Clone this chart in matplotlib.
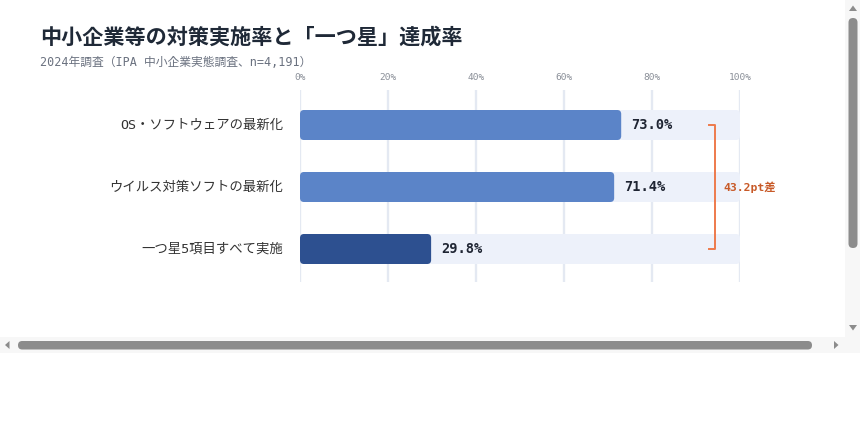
import matplotlib
matplotlib.use("Agg")
import matplotlib.pyplot as plt
from matplotlib.patches import FancyBboxPatch, Rectangle, Polygon

# ---- data ----
categories = ["OS・ソフトウェアの最新化", "ウイルス対策ソフトの最新化", "一つ星5項目すべて実施"]
values = [73.0, 71.4, 29.8]
bar_colors = ["#5B84C8", "#5B84C8", "#2D5090"]
ticks = [0, 20, 40, 60, 80, 100]
tick_labels = ["0%", "20%", "40%", "60%", "80%", "100%"]
title = "中小企業等の対策実施率と「一つ星」達成率"
subtitle = "2024年調査（IPA 中小企業実態調査、n=4,191）"
gap_label = f"{values[0] - values[2]:.1f}pt差"

W, H = 860, 440
MONO = ["DejaVu Sans Mono", "Noto Sans CJK JP"]
CJK = ["Noto Sans CJK JP", "DejaVu Sans"]

fig = plt.figure(figsize=(W / 100, H / 100), dpi=100)
fig.patch.set_facecolor("white")

def fx(px):
    return px / W

def fy(py):
    return 1 - py / H

# axes: x 300..740 px, y 90..282 px
ax = fig.add_axes([fx(300), fy(282), (740 - 300) / W, (282 - 90) / H])
ax.set_xlim(0, 100)
ax.set_ylim(2 + 33 / 62, -35 / 62)
ax.axis("off")

px_x = 100 / 440  # data units per px in x
px_y = 1 / 62     # data units per px in y
bh = 30 * px_y
aspect = px_y / px_x
r = 4 * px_x

for t, lab in zip(ticks, tick_labels):
    ax.plot([t, t], [2 + 33 / 62, -35 / 62], color="#E4E9F2", lw=1.7, zorder=0,
            solid_capstyle="butt")
    fig.text(fx(300 + t * 4.4), fy(77), lab, ha="center",
             va="center", fontsize=6.8, color="#8a8f98", family=MONO)

for i, (cat, v, c) in enumerate(zip(categories, values, bar_colors)):
    track = FancyBboxPatch((0, i - bh / 2), 100, bh,
                           boxstyle=f"round,pad=0,rounding_size={r}",
                           mutation_aspect=aspect, fc="#EDF1FA", ec="none", zorder=1)
    ax.add_patch(track)
    bar = FancyBboxPatch((0, i - bh / 2), v, bh,
                         boxstyle=f"round,pad=0,rounding_size={r}",
                         mutation_aspect=aspect, fc=c, ec="none", zorder=2)
    ax.add_patch(bar)
    ax.text(v + 10 * px_x, i, f"{v:.1f}%", ha="left", va="center", fontsize=9.8,
            fontweight="bold", color="#1f2533", family=MONO, zorder=3)
    ax.text(-17 * px_x, i, cat, ha="right", va="center", fontsize=9.6,
            color="#333333", family=MONO)

# bracket
bx = 100 - 25 * px_x
tick_len = 6 * px_x
ax.plot([bx - tick_len, bx, bx, bx - tick_len],
        [0, 0, 2, 2], color="#EE7A4C", lw=1.4, zorder=3, clip_on=False)
ax.text(bx + 8 * px_x, 1, gap_label, ha="left", va="center", fontsize=8.2,
        fontweight="bold", color="#C85A28", family=MONO, clip_on=False)

# title & subtitle
fig.text(fx(40), fy(37), title, ha="left", va="center", fontsize=15.2,
         fontweight="bold", color="#1f2937", family=CJK)
fig.text(fx(40), fy(63), subtitle, ha="left", va="center", fontsize=8.5,
         color="#6b7280", family=MONO)

# browser scrollbars (screenshot chrome)
def rect_px(x0, y0, x1, y1, color, rounded=0.0):
    if rounded:
        p = FancyBboxPatch((fx(x0), fy(y1)), fx(x1) - fx(x0), fy(y0) - fy(y1),
                           boxstyle=f"round,pad=0,rounding_size={rounded / W}",
                           mutation_aspect=W / H, transform=fig.transFigure,
                           fc=color, ec="none")
    else:
        p = Rectangle((fx(x0), fy(y1)), fx(x1) - fx(x0), fy(y0) - fy(y1),
                      transform=fig.transFigure, fc=color, ec="none")
    fig.patches.append(p)

def tri_px(pts, color):
    fig.patches.append(Polygon([(fx(a), fy(b)) for a, b in pts], closed=True,
                               transform=fig.transFigure, fc=color, ec="none"))

rect_px(845, 0, 860, 337, "#f7f7f7")
rect_px(0, 337, 860, 353, "#f7f7f7")
rect_px(848.5, 18, 857.5, 248, "#8c8c8c", rounded=4.5)
rect_px(18, 341, 812, 349.5, "#8c8c8c", rounded=4.2)
tri_px([(849, 11), (857, 11), (853, 5.5)], "#8c8c8c")
tri_px([(849, 325), (857, 325), (853, 330.5)], "#8c8c8c")
tri_px([(9.5, 341), (9.5, 349), (5, 345)], "#8c8c8c")
tri_px([(834, 341), (834, 349), (838.5, 345)], "#8c8c8c")

fig.savefig("out.png", dpi=100, facecolor="white")
